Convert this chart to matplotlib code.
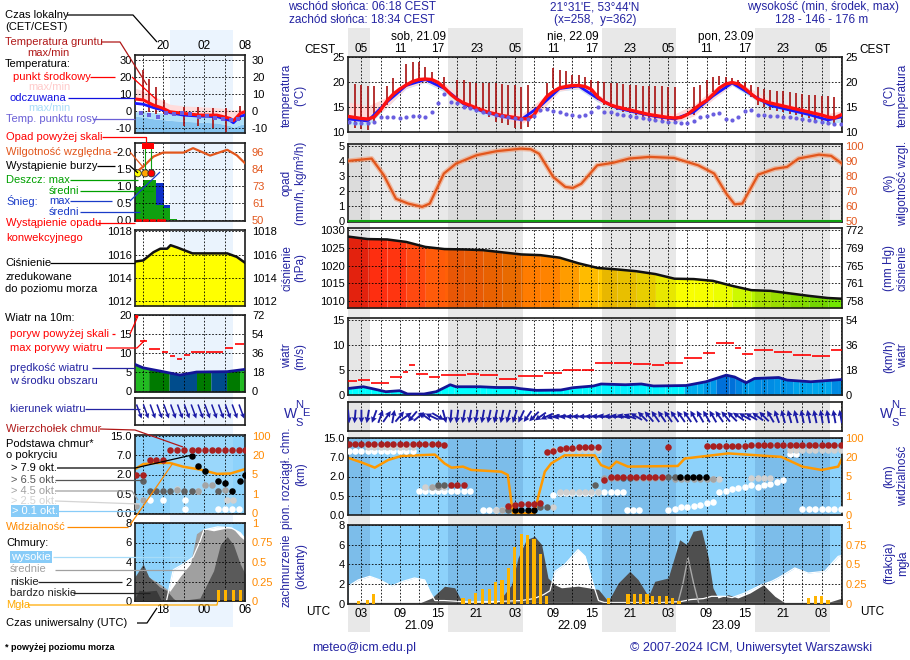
import numpy as np
import matplotlib
matplotlib.use('Agg')
import matplotlib.pyplot as plt
from matplotlib.colors import LinearSegmentedColormap, Normalize
from matplotlib.transforms import blended_transform_factory

plt.rcParams['font.family'] = ['Liberation Sans', 'DejaVu Sans']
plt.rcParams['font.size'] = 8

# =========================== DATA (main meteogram) ===========================
# time = hours since 21.09 00 UTC
sunrise_utc = 4.30      # 06:18 CEST
sunset_utc = 16.57      # 18:34 CEST
hours = np.arange(1, 79)

temp = [13.1, 12.9, 12.7, 12.6, 13.0, 14.4, 16.2, 17.6, 18.6, 19.4,
        20.1, 20.5, 20.6, 20.5, 19.9, 18.8, 17.5, 16.5, 15.8, 15.3,
        14.8, 14.3, 13.9, 13.6, 13.3, 13.1, 12.9, 12.7, 12.6, 13.4,
        15.4, 17.1, 18.1, 18.8, 19.1, 19.3, 19.3, 19.1, 18.5, 17.0,
        16.0, 15.4, 15.0, 14.7, 14.4, 14.1, 13.8, 13.5, 13.3, 13.1,
        12.9, 12.8, 12.9, 13.5, 14.5, 15.5, 16.3, 17.5, 18.8, 19.6,
        19.9, 19.6, 18.7, 17.6, 16.6, 16.2, 15.8, 15.5, 15.2, 14.9,
        14.6, 14.3, 14.0, 13.7, 13.4, 13.0, 12.8, 13.4]
dew = [12.1, 11.9, 11.8, 11.8, 12.0, 13.1, 13.0, 13.0, 12.9, 13.0,
       13.3, 13.3, 13.1, 14.1, 15.8, 17.6, 16.0, 15.8, 15.1, 14.8,
       14.5, 14.1, 13.8, 13.5, 13.3, 13.1, 12.8, 12.6, 12.7, 13.3,
       14.5, 14.6, 14.3, 14.0, 13.7, 13.5, 13.3, 13.5, 14.0, 15.0,
       14.1, 14.0, 13.7, 13.5, 13.3, 13.1, 12.9, 12.7, 12.5, 12.3,
       12.1, 12.0, 11.9, 11.9, 12.3, 13.0, 13.3, 13.6, 13.9, 12.6,
       12.5, 13.0, 14.3, 14.5, 13.5, 13.4, 13.3, 13.2, 13.1, 13.0,
       12.8, 12.6, 12.4, 12.2, 12.0, 11.8, 11.6, 11.6]
nan = np.nan
gnd_max = [nan, 19.6, 19.5, 19.3, 19.3, nan, 19.3, 20.9, nan, 23.6,
           24.0, 24.0, 23.1, 22.1, nan, 21.1, nan, 20.5, 20.5, 20.1,
           19.8, 19.8, 19.8, 19.8, 19.6, 19.5, 19.5, 19.1, 19.5, nan,
           nan, 19.8, 22.8, 22.5, 22.3, 21.5, 21.5, 21.1, 20.5, 20.3,
           20.0, 19.8, 19.8, 19.6, 19.5, 19.5, 19.3, 19.3, 19.2, 19.2,
           19.0, 19.0, nan, nan, 19.0, 19.5, 20.5, 21.0, 21.2, 21.0,
           20.8, 20.5, 20.0, 19.5, 19.0, 18.7, 18.5, 18.3, 18.2, 18.0,
           17.8, 17.6, 17.5, 17.4, 17.3, 17.2, 17.0, nan]
gnd_min = [nan, 10.9, 10.7, 10.5, 12.1, nan, 15.5, 17.5, nan, 19.1,
           20.1, 20.5, 20.6, 20.3, nan, 19.1, nan, 16.5, 15.8, 14.8,
           14.1, 13.8, 13.1, 12.1, 11.8, 11.5, 10.8, 10.7, 11.1, nan,
           nan, 17.1, 18.8, 19.1, 19.3, 19.3, 19.1, 19.1, 18.0, 16.5,
           15.5, 15.0, 14.5, 14.0, 13.8, 13.5, 13.0, 12.8, 12.5, 12.2,
           12.0, 12.0, nan, nan, 13.5, 15.0, 16.0, 18.0, 19.5, 19.8,
           19.8, 19.5, 18.5, 17.0, 15.5, 15.0, 14.5, 14.2, 14.0, 13.7,
           13.4, 13.1, 12.8, 12.5, 12.2, 11.8, 11.6, nan]
band_t = [1, 4, 7, 10, 13, 16, 19, 22, 25, 28, 31, 34, 37, 40, 43, 46, 49, 52,
          55, 58, 61, 64, 67, 70, 73, 76, 78]
temp_hi = [16.0, 15.2, 17.0, 20.0, 21.0, 19.8, 16.5, 15.0, 14.0, 13.5, 16.5, 19.5, 19.7, 17.5,
           15.6, 14.7, 14.0, 13.6, 15.5, 18.5, 20.4, 18.6, 16.5, 15.5, 14.6, 13.7, 14.2]
temp_lo = [12.4, 11.9, 15.0, 18.8, 20.0, 18.3, 15.2, 13.8, 12.6, 11.6, 14.0, 18.2, 18.8, 16.2,
           14.5, 13.5, 12.5, 12.0, 13.2, 16.5, 19.4, 17.3, 15.2, 14.2, 13.2, 12.2, 12.6]
feel = [12.6, 12.2, 16.0, 19.3, 20.5, 18.7, 15.6, 14.1, 13.1, 12.5, 15.2, 18.7, 19.2, 16.7,
        14.8, 13.9, 13.1, 12.6, 14.0, 17.2, 19.8, 17.5, 15.3, 14.4, 13.5, 12.4, 13.0]
feel_hi = [13.0, 12.8, 16.3, 19.5, 20.6, 18.9, 15.9, 14.3, 13.3, 12.8, 15.4, 18.9, 19.3, 16.9,
           15.0, 14.1, 13.3, 12.8, 14.2, 17.4, 20.0, 17.8, 15.6, 14.7, 13.8, 12.8, 13.3]
feel_lo = [11.5, 11.3, 15.0, 18.7, 19.9, 18.0, 15.0, 13.5, 12.5, 11.7, 14.3, 18.2, 18.6, 16.0,
           14.2, 13.2, 12.3, 11.8, 13.3, 16.6, 19.3, 16.9, 14.6, 13.6, 12.7, 11.6, 12.0]

hum_t = [0.9, 4.6, 6.5, 8.4, 10.3, 12.5, 13.7, 15.9, 17.8, 21.0, 24.1, 27.9, 29.5, 30.8, 33.0,
         34.9, 36.1, 37.4, 39.9, 42.4, 44.9, 48.1, 51.9, 55.7, 58.2, 60.1, 61.4, 62.6, 63.9,
         65.1, 67.7, 69.6, 71.4, 74.6, 76.5, 78.2]
hum_v = [90.2, 91.8, 80.7, 65.0, 61.8, 59.6, 61.8, 81.8, 88.4, 94.0, 96.7, 98.4, 98.0, 95.0,
         79.6, 72.9, 72.2, 75.0, 87.3, 89.0, 91.8, 92.9, 92.2, 87.3, 81.8, 68.4, 61.3, 61.8,
         71.8, 81.1, 85.0, 86.2, 91.8, 94.4, 93.6, 88.4]

press_t = [0.9, 4, 7, 10, 13, 16, 19, 22, 25, 28, 31, 34, 37, 40, 43, 46, 49, 52, 55, 58, 61,
           64, 67, 70, 73, 76, 78.2]
press = [1028.1, 1027.4, 1027.3, 1026.6, 1025.2, 1024.6, 1024.5, 1024.3, 1023.7, 1023.1,
         1022.9, 1022.2, 1020.6, 1019.3, 1018.9, 1018.4, 1017.6, 1016.3, 1016.2, 1015.7,
         1014.3, 1013.1, 1012.9, 1012.2, 1011.5, 1010.9, 1010.7]

wind_t = [0.9, 3.3, 4.6, 6.8, 9.0, 10.2, 12.8, 14.7, 16.9, 17.8, 21.6, 24.1, 26.7, 27.9, 30.4,
          34.2, 36.1, 39.3, 40.5, 44.3, 46.8, 48.7, 53.8, 56.9, 60.1, 61.4, 63.2, 64.5, 68.3,
          69.6, 73.3, 78.2]
wind_v = [1.3, 1.65, 1.3, 0.66, 0.86, 0.2, 0.2, 0.66, 2.05, 1.65, 1.65, 1.5, 1.5, 1.26, 0.93,
          1.0, 1.46, 1.8, 2.2, 2.05, 2.2, 1.8, 1.9, 2.65, 3.97, 3.6, 2.45, 3.3, 3.5, 2.98, 2.65, 3.1]
gust = [2.75, 2.75, 3.0, 3.0, 2.5, 2.5, 2.5, 3.6, 3.6, 4.6,
        6.1, 4.3, 4.3, 3.6, 3.6, 4.1, 4.1, 4.1, 4.1, 4.3,
        4.3, 4.0, 4.0, 4.0, 3.2, 3.2, 3.2, 3.9, 3.9, 3.9,
        3.9, 4.5, 4.5, 4.5, 5.1, 5.1, 5.1, 5.0, 5.0, 6.4,
        6.4, 6.4, 6.5, 6.5, 6.5, 6.3, 6.3, 6.3, 6.0, 6.0,
        6.4, 6.4, 6.4, 7.4, 7.4, 7.4, 8.4, 8.4, 10.4, 10.4,
        10.4, 9.4, 8.3, 8.3, 9.0, 9.0, 9.0, 8.7, 8.7, 8.7,
        8.0, 8.0, 8.0, 7.8, 7.8, 7.8, 9.1, 9.1]
wind_dir = [355, 5, 0, 10, 20, 200, 215, 190, 220, 235,
            40, 230, 125, 115, 300, 345, 5, 8, 10, 10,
            10, 10, 12, 12, 12, 15, 18, 25, 35, 45,
            55, 65, 75, 80, 85, 88, 90, 90, 92, 95,
            100, 95, 100, 105, 110, 120, 135, 140, 145, 145,
            145, 145, 145, 145, 150, 150, 150, 150, 145, 140,
            135, 125, 120, 120, 125, 135, 150, 160, 165, 165,
            165, 168, 168, 168, 170, 170, 170, 170]

# cloud base / top (km a.s.l.)
cb_top_t = [1, 2, 3, 4, 5, 6, 7, 8, 9, 10, 11, 12, 13, 14, 15, 16, 17, 18, 19,
            26, 27, 28, 29, 30, 31, 32, 33, 34, 35, 36, 37, 38, 39, 40,
            41, 42, 43, 44, 45, 46, 47, 48, 49, 50, 51,
            57, 58, 59, 60, 61, 62, 63, 64, 65, 66, 67, 68, 69, 70, 71, 72, 73, 74, 75, 76, 77, 78]
cb_top_h = [12.7, 12.7, 12.7, 12.7, 12.7, 12.7, 12.7, 12.7, 12.7, 12.7, 12.7, 12.7, 12.7, 12.7,
            12.7, 12.0, 1.33, 1.33, 1.33,
            0.24, 0.26, 0.28, 0.28, 0.28, 0.32, 9.2, 9.6, 10.3, 10.7, 11.0, 11.2, 11.2, 11.2, 11.2,
            1.7, 1.93, 1.93, 1.93, 1.93, 1.93, 1.93, 1.93, 1.93, 1.93, 11.2,
            11.5, 11.6, 11.6, 11.7, 11.8, 11.8, 11.8, 11.9, 11.9, 11.9, 11.9, 11.9, 11.9, 11.9,
            11.9, 11.9, 11.9, 11.9, 11.9, 12.0, 12.2, 12.2]
cb_k_t = [27, 28, 29, 30, 52.8, 53.9, 54.9, 55.9, 56.9]
cb_k_h = [0.14, 0.14, 0.14, 0.14, 1.97, 1.97, 1.97, 1.97, 1.97]
cb_d_t = [15, 16, 26, 31, 32, 39.5, 44, 45, 51, 52]
cb_d_h = [1.37, 1.37, 0.14, 0.2, 0.22, 1.37, 1.9, 1.9, 1.97, 1.97]
cb_g_t = [14, 15, 25, 41, 42, 43, 46, 47, 48, 49, 50, 52, 53, 54, 55, 56, 57, 58]
cb_g_h = [1.2, 1.2, 0.14, 1.85, 1.85, 1.85, 1.85, 1.85, 1.85, 1.85, 1.85, 1.82, 1.82, 1.82,
          1.82, 1.82, 1.82, 1.82]
cb_l_t = [4, 5, 6, 7, 8, 9, 10, 11, 13, 14, 15, 16, 24, 33,
          33, 34, 35, 36, 37, 38, 39, 40, 34, 35, 36, 37, 38, 39, 40,
          58, 59, 64, 65, 66, 67, 70, 71, 72, 73, 74, 75, 76, 77, 78]
cb_l_h = [11.3, 11.3, 11.3, 11.3, 11.3, 11.3, 11.3, 11.3, 1.19, 1.19, 1.19, 1.19, 0.13, 0.22,
          10.0, 10.0, 10.0, 10.0, 10.0, 10.0, 10.0, 10.0, 0.8, 0.8, 0.8, 0.8, 0.8, 0.8, 0.8,
          1.8, 1.8, 1.9, 1.9, 1.9, 1.9, 10.2, 10.2, 10.2, 10.2, 10.2, 10.2, 10.2, 10.2, 10.2]
cb_w_t = [1, 2, 3, 4, 5, 6, 7, 8, 9, 10, 11, 12, 13, 14, 15, 16, 17, 18, 19, 20,
          22, 23, 24, 25, 33, 34, 35, 36, 37, 38, 39, 40, 41, 42, 43, 44, 44.5, 45.5, 46.5,
          51, 52, 53, 54, 55, 56, 57, 58, 59, 60, 61, 62, 63, 64, 65, 66, 67, 68, 69,
          70, 71, 72, 73, 74, 75, 76, 77, 78]
cb_w_h = [9.6, 9.6, 9.6, 9.6, 9.6, 9.6, 9.6, 9.6, 9.6, 9.6, 9.6, 0.89, 0.89, 0.89, 0.89,
          0.89, 0.89, 0.89, 0.89, 0.89, 0.13, 0.13, 0.13, 0.13, 0.56, 0.73, 0.73, 0.73, 0.73,
          0.73, 0.73, 0.8, 0.8, 0.8, 0.8, 0.8, 0.13, 0.13, 0.13,
          0.13, 0.16, 0.2, 0.22, 0.24, 0.26, 0.3, 0.35, 0.8, 0.9, 1.0, 1.1, 1.2, 1.3, 1.15,
          1.3, 1.45, 1.6, 1.72, 8.4, 8.4, 0.16, 0.16, 0.16, 0.16, 0.16, 0.16, 0.16]
vis_t = [0.9, 3.0, 5.1, 7.2, 9.3, 14.5, 16.0, 17.1, 18.9, 20.2, 24.9, 25.9, 26.7, 30.1, 30.6,
         31.7, 32.7, 34.8, 39.5, 40.5, 41.8, 42.9, 44.7, 52.5, 53.6, 60.4, 68.7, 72.0, 75.0,
         77.6, 78.2]
vis_v = [19.6, 16, 11.9, 17.9, 25.6, 31, 15.2, 11.9, 12.7, 10.1, 8.75, 6.2, 0.09, 0.09, 0.86,
         8.75, 15.2, 28, 28, 13.9, 11.3, 16.6, 12.7, 13.2, 19, 36, 21.6, 12.7, 10.1, 12.7, 19]

# cloud cover (octas)
hi_t = [0.9, 2.5, 4.3, 5.9, 7.7, 9.5, 11.3, 12.9, 13.7, 14.5, 16.0, 20.0, 24.0, 28.0, 30.0,
        31.5, 32.5, 33.3, 34.8, 36.9, 38.0, 39.3, 40.1, 41.0, 50.0, 53.0, 54.5, 56.5, 57.8,
        59.9, 61.0, 63.0, 65.6, 67.2, 68.2, 70.8, 72.9, 75.5, 77.6, 78.2]
hi_v = [1.75, 2.4, 2.77, 2.4, 1.77, 2.26, 2.6, 2.4, 1.24, 0.3, 0.3, 0.15, 0.2, 0.3, 0.5, 0.9,
        1.3, 3.28, 3.96, 5.49, 4.8, 1.9, 0.3, 0.1, 0.1, 0.2, 0.4, 0.5, 0.73, 0.73, 0.6, 1.07,
        1.9, 2.26, 2.6, 3.62, 3.1, 3.28, 4.8, 4.9]
lo_t = [0.9, 11.9, 14.0, 16.0, 17.6, 18.7, 19.5, 24.0, 24.9, 26.5, 27.5, 28.8, 30.1, 31.2,
        32.2, 33.3, 34.3, 36.9, 40.1, 41.6, 43.2, 45.0, 46.3, 47.9, 48.9, 51.0, 52.8, 53.9,
        54.9, 56.2, 57.3, 58.0, 58.8, 60.4, 61.9, 63.8, 65.9, 67.7, 69.3, 75.5, 78.2]
lo_v = [0, 0, 0.56, 1.76, 1.6, 0.22, 0, 0, 0.56, 1.92, 4.64, 6.5, 6.85, 6.0, 2.6, 1.9, 1.6,
        1.77, 1.43, 0.22, 2.1, 3.28, 2.43, 0.73, 2.26, 2.6, 6.5, 6.0, 7.36, 7.53, 4.64, 1.6,
        0.56, 0.9, 0.56, 1.07, 1.9, 0.73, 0.05, 0, 0.56]
mid_t = [0.9, 52.5, 53.3, 54.1, 55.0, 55.8, 78.2]
mid_v = [0, 0, 2.0, 4.7, 2.0, 0, 0]
fog_t = [2.6, 3.9, 4.9, 18.9, 19.9, 20.9, 22.0, 23.0, 24.0, 25.0, 26.0, 27.0, 28.0, 29.0, 30.0,
         31.0, 32.0, 41.6, 44.7, 45.7, 46.7, 47.7, 48.6, 49.7, 50.7, 51.7, 52.7, 73.0, 74.0,
         75.0, 76.0]
fog_v = [0.03, 0.05, 0.12, 0.07, 0.06, 0.13, 0.18, 0.18, 0.28, 0.30, 0.45, 0.72, 0.88, 0.87,
         0.82, 0.63, 0.10, 0.07, 0.12, 0.12, 0.12, 0.12, 0.09, 0.09, 0.10, 0.07, 0.03, 0.07,
         0.09, 0.09, 0.05]

# axis scales
cb_levels_km = [0, 0.5, 2, 7, 15]
vis_levels_km = [0, 1, 5, 20, 100]
days = ['sob, 21.09', 'nie, 22.09', 'pon, 23.09']
dates = ['21.09', '22.09', '23.09']

# =========================== DATA (legend mini-panels) ===========================
lg_night = (19.0, 28.2)
lg_t = [13.9, 15.1, 16.6, 18.0, 19.0, 21.0, 23.4, 25.9, 27.8, 28.3, 29.3, 30.0]
lg_temp = [7.1, 6.5, 3.5, 1.6, -0.4, -1.4, -2.4, -2.4, -4.3, -5.7, -1.4, -0.4]
lg_feel = [4.5, 4.0, 2.0, 0.6, -1.0, -2.4, -3.0, -3.3, -5.5, -6.9, -3.0, -2.4]
lg_thi = [13.4, 12.0, 9.0, 6.0, 4.0, 3.0, 2.5, 2.0, 1.0, 0.5, 1.0, 0.6]
lg_fhi = [-0.4, -0.4, -0.8, -1.2, -1.6, -2.2, -2.8, -3.0, -4.5, -6.0, -3.5, -3.0]
lg_flo = [-3.0, -3.5, -4.5, -5.0, -5.5, -6.0, -6.5, -7.0, -8.5, -9.5, -8.0, -7.5]
lg_dew_t = [14.8, 16.0, 17.2, 18.4, 19.6, 20.8, 22.0, 23.2, 24.4, 25.6, 26.8, 28.0, 29.0]
lg_dew = [-1.4, -2.4, -3.3, -1.4, -1.8, -1.4, -2.0, -3.5, -3.0, -4.0, -4.8, -5.5, -4.8]
lg_g_t = [15.1, 15.9, 17.0, 18.2, 21.1, 23.1, 25.3, 27.2, 29.2]
lg_gmax = [24, 19, 14, 6.5, 2.5, 2.5, 1.5, 1.5, 3]
lg_gmin = [6, -0.5, -1.5, -1.5, -9, -9, -10, -12.5, -5]

lg_rain_t0 = [13.9, 15.1, 17.0, 18.1, 19.0]
lg_rain_t1 = [15.1, 17.0, 18.1, 19.0, 20.0]
lg_rain = [0.98, 1.18, 0.44, 0.40, 0.04]
lg_snow_t0 = [17.0, 18.1]
lg_snow_t1 = [18.1, 19.0]
lg_snow_lo = [0.44, 0.35]
lg_snow_hi = [1.10, 0.44]
lg_hum_t = [13.9, 15.1, 16.6, 18.0, 21.0, 22.4, 24.9, 27.4, 28.8, 30.0]
lg_hum = [81.6, 86.0, 92.8, 95.5, 95.5, 98.5, 93.5, 97.4, 93.7, 88.3]
lg_storm_t = [14.3, 15.4, 16.3]
lg_above_t = [15.4, 16.3]
lg_conv_t = [14.2, 14.7, 15.2, 15.7, 16.2, 16.7, 17.2, 17.7, 18.2]

lg_p_t = [13.9, 15.1, 16.6, 17.6, 18.6, 19.1, 20.1, 22.3, 27.4, 28.8, 30.0]
lg_p = [1015.4, 1015.5, 1016.2, 1016.5, 1016.5, 1016.8, 1016.6, 1016.1, 1016.1, 1015.8, 1015.3]

lg_w_t = [13.9, 15.1, 18.0, 20.5, 22.9, 27.4, 30.0]
lg_w = [7.0, 6.1, 5.1, 4.2, 5.0, 5.1, 5.7]
lg_wf_edges = [13.9, 15.9, 18.9, 22.9, 25.0, 27.3, 29.2, 30.0]
lg_wf_cls = [0, 1, 2, 1, 2, 1, 0]
lg_gs0 = [14.6, 15.9, 17.8, 19.0, 20.0, 21.0, 22.1, 24.3, 27.0, 28.5]
lg_gs1 = [15.9, 17.8, 19.0, 20.0, 21.0, 22.1, 24.3, 27.0, 28.5, 30.0]
lg_gv = [13.2, 11.1, 10.3, 9.2, 8.3, 9.6, 10.3, 10.3, 11.4, 12.5]
lg_dir_t = [14.5, 15.5, 16.5, 17.5, 18.5, 19.5, 20.5, 21.5, 22.5, 23.5, 24.5, 25.5, 26.5,
            27.5, 28.5, 29.5]
lg_dir = [340, 340, 340, 340, 340, 340, 340, 340, 340, 340, 340, 340, 340, 340, 340, 340]

lg_top_t = [14.1, 15.1, 16.1, 17.0, 18.0, 19.0, 20.0, 21.0, 22.2, 23.1, 24.1, 25.1, 26.1,
            27.1, 28.1, 29.1, 30.0]
lg_top_h = [2.0, 2.0, 5.7, 5.7, 5.7, 9.3, 9.3, 9.3, 9.3, 9.3, 9.3, 9.3, 9.3, 9.3, 9.3, 9.3, 9.3]
lg_k_t = [22.2, 23.1, 24.1, 26.1, 27.1, 28.1, 29.3, 30.0]
lg_k_h = [6.8, 4.2, 2.9, 1.5, 1.3, 0.68, 1.5, 2.0]
lg_d_t = [15.1, 16.1, 17.0, 18.0, 19.0, 21.0, 22.2, 26.1]
lg_d_h = [1.5, 0.68, 0.68, 0.68, 0.72, 0.75, 0.75, 0.68]
lg_g2_t = [14.1, 15.1, 20.0, 23.1, 24.1, 25.1, 27.1]
lg_g2_h = [0.19, 0.33, 0.8, 0.68, 1.2, 1.2, 0.8]
lg_l_t = [20.0, 23.1, 27.4, 28.3]
lg_l_h = [0.85, 0.68, 0.33, 0.33]
lg_w2_t = [15.1, 16.1, 18.0, 21.2, 21.2, 26.1, 27.1, 28.1, 29.1]
lg_w2_h = [0.33, 0.33, 0.35, 0.35, 0.1, 0.1, 0.1, 0.1, 0.1]
lg_vis_t = [13.9, 15.1, 17.0, 19.0, 21.0, 23.4, 25.9, 27.9, 30.0]
lg_vis = [9.2, 13.1, 14.0, 14.0, 11.0, 8.9, 5.5, 5.8, 9.2]

lg_hi_t = [13.9, 18.5, 19.5, 21.0, 22.4, 23.4, 24.0, 26.0, 28.0, 29.3, 30.0]
lg_hi = [0, 0, 3.2, 3.8, 4.5, 6.1, 7.3, 7.6, 7.5, 7.0, 6.4]
lg_mid_t = [13.9, 15.0, 17.0, 19.0, 20.5, 22.0, 22.9, 23.9, 25.4, 27.4, 28.3, 29.3, 30.0]
lg_mid = [2.5, 2.8, 2.0, 1.0, 2.5, 3.8, 6.9, 7.4, 7.2, 7.5, 7.4, 6.6, 6.2]
lg_low_t = [13.9, 15.1, 15.9, 17.5, 18.5, 19.5, 20.0, 23.4, 25.4, 26.4, 27.4, 28.3, 29.3, 30.0]
lg_low = [2.5, 3.8, 2.5, 1.45, 1.1, 0.27, 0, 0.3, 3.1, 5.8, 6.6, 5.8, 3.8, 2.8]
lg_vlow_t = [13.9, 14.5, 15.5, 17.0, 17.8, 30.0]
lg_vlow = [0.3, 1.1, 1.0, 1.1, 0, 0]
lg_fog_t = [26.1, 27.1, 28.3, 29.3]
lg_fog = [0.14, 0.14, 0.14, 0.14]

# =========================== FIGURE ===========================
W, H = 910, 660
fig = plt.figure(figsize=(W / 100, H / 100), dpi=100)
fig.patch.set_facecolor('white')

NAVY = '#2424a2'
ORANGE = '#ff8a00'
HUMC = '#e2561c'
GRID = dict(color='black', linestyle=(0, (2, 2)), linewidth=0.6)

X0, X1 = 0.9, 78.2
LX = (13.9, 30.0)
nights = [(sunset_utc + 24 * (d - 1), sunrise_utc + 24 * d) for d in range(4)]


def add_ax(r, z):
    x0, y0, x1, y1 = r
    return fig.add_axes([x0 / W, 1 - y1 / H, (x1 - x0) / W, (y1 - y0) / H], zorder=z)


def panel(r, xlim, ylim, face):
    ax = add_ax(r, 2)
    ax.set_xlim(*xlim)
    ax.set_ylim(*ylim)
    ax.set_facecolor(face)
    for s in ax.spines.values():
        s.set_linewidth(1.2)
        s.set_color('#1e1e1e')
    ax.tick_params(length=0, labelsize=8, pad=2.5)
    ax.set_axisbelow('line')
    return ax


def grids(ax, xt, yt, ylab=None):
    ax.set_xticks(xt)
    ax.set_xticklabels([])
    if yt is None:
        ax.set_yticks([])
        ax.grid(True, axis='x', **GRID)
    else:
        ax.set_yticks(yt)
        ax.set_yticklabels(ylab)
        ax.grid(True, **GRID)


def right(ax, pos, labels, color='black', pad=2.5):
    if pos is None:
        return None
    tw = ax.twinx()
    tw.set_ylim(ax.get_ylim())
    tw.set_yticks(pos)
    tw.set_yticklabels(labels)
    tw.tick_params(length=0, labelsize=8, pad=pad, labelcolor=color)
    for s in tw.spines.values():
        s.set_visible(False)
    return tw


def nightspans(ax, color, alpha=1.0, z=0.2):
    for a, b in nights:
        ax.axvspan(a, b, color=color, alpha=alpha, lw=0, zorder=z)


MAIN_XT = np.arange(3, 79, 3)
MINI_XT = [15, 18, 21, 24, 27]

# background night strips (main + legend)
bgm = add_ax((348, 28, 842, 632), 0)
bgm.set_xlim(X0, X1)
bgm.axis('off')
for a, b in nights:
    bgm.axvspan(a, b, color='#e8e8e8', lw=0)
bgl = add_ax((135, 30, 245, 627), 0)
bgl.set_xlim(*LX)
bgl.axis('off')
bgl.axvspan(*lg_night, color='#ebf4fe', lw=0)

# ---------------- temperature ----------------
ax = panel((348, 57, 842, 132), (X0, X1), (10, 25), 'white')
nightspans(ax, '#e6e6e6')
grids(ax, MAIN_XT, [10, 15, 20, 25], ['10', '15', '20', '25'])
right(ax, [10, 15, 20, 25], ['10', '15', '20', '25'])
ax.fill_between(band_t, feel_lo, feel_hi, color='#bfe6fb', lw=0, zorder=1)
ax.fill_between(band_t, temp_lo, temp_hi, color='#ffd9d9', lw=0, zorder=1.05)
ax.vlines(hours, gnd_min, gnd_max, color='#a80f0f', lw=1.2, zorder=2)
ax.plot(band_t, feel, color='#1a1aff', lw=2, zorder=3)
ax.plot(hours, temp, color='#ff1010', lw=2.4, zorder=3.2)
ax.scatter(hours, dew, s=9, marker='o', color='#6a5fe0', lw=0, zorder=3.4)
bt = blended_transform_factory(ax.transData, ax.transAxes)
for h in range(3, 79, 6):
    ax.text(h, 1.10, '%02d' % ((h + 2) % 24), transform=bt, ha='center', va='center', fontsize=8.5)
for i, h in enumerate([12, 36, 60]):
    ax.text(h, 1.27, days[i], transform=bt, ha='center', va='center', fontsize=8.5)

# ---------------- precipitation / humidity ----------------
ax = panel((348, 144, 842, 222), (X0, X1), (-0.05, 5.15), '#e9e9e9')
nightspans(ax, '#dcdcdc')
grids(ax, MAIN_XT, [0, 1, 2, 3, 4, 5], ['0', '1', '2', '3', '4', '5'])
right(ax, [0, 1, 2, 3, 4, 5], ['50', '60', '70', '80', '90', '100'], color=HUMC)
ax.axhline(0, color='#10a010', lw=1.5, zorder=3)
hum_y = (np.array(hum_v) - 50) / 10
ax.plot(hum_t, hum_y, color='#f49a70', lw=3.6, alpha=0.6, zorder=3)
ax.plot(hum_t, hum_y, color=HUMC, lw=1.6, zorder=3.1)

# ---------------- pressure ----------------
pcmap = LinearSegmentedColormap.from_list('pres', ['#5ae000', '#90f000', '#c8f800', '#f0ff00',
                                                   '#ffff00', '#ffd200', '#ffb400', '#ff8c00',
                                                   '#ff6e00', '#ff5010', '#ff3010', '#f01010'])
pnorm = Normalize(1010, 1029)
ax = panel((348, 228, 842, 308), (X0, X1), (1008.1, 1030.5), 'white')
grids(ax, MAIN_XT, [1010, 1015, 1020, 1025, 1030], ['1010', '1015', '1020', '1025', '1030'])
right(ax, [1010, 1015, 1020, 1025, 1030], ['758', '761', '765', '769', '772'])
for i in range(len(press_t) - 1):
    ys = [press[i], press[i + 1]]
    ax.fill_between([press_t[i], press_t[i + 1]], 1008.1, ys,
                    color=pcmap(pnorm(0.5 * (ys[0] + ys[1]))), lw=0, zorder=1)
nightspans(ax, 'black', alpha=0.09, z=1.2)
ax.plot(press_t, press, color='#111111', lw=1.8, zorder=3)

# ---------------- wind ----------------
wcmap = LinearSegmentedColormap.from_list('w', [(0, '#00ffff'), (0.35, '#00f4ff'), (0.45, '#00b4f0'),
                                                (0.65, '#0096e8'), (0.85, '#0078dc'), (1, '#0066d6')])
wnorm = Normalize(4, 11)
ax = panel((348, 318, 842, 395), (X0, X1), (0, 15.4), 'white')
nightspans(ax, '#e6e6e6')
grids(ax, MAIN_XT, [0, 5, 10, 15], ['0', '5', '10', '15'])
right(ax, [0, 5, 10, 15], ['0', '18', '36', '54'])
for i, hh in enumerate(hours):
    xs = np.linspace(hh - 0.5, hh + 0.5, 6)
    ax.fill_between(xs, 0, np.interp(xs, wind_t, wind_v), color=wcmap(wnorm(gust[i])),
                    lw=0, zorder=1)
ax.plot(wind_t, wind_v, color='#141496', lw=2, zorder=3)
i = 0
while i < len(gust):
    j = i
    while j + 1 < len(gust) and gust[j + 1] == gust[i]:
        j += 1
    ax.hlines(gust[i], hours[i] - 0.5, hours[j] + 0.35, color='#ff0000', lw=1.2, zorder=3)
    i = j + 1

# ---------------- wind direction ----------------
ax = panel((348, 402, 842, 431), (X0, X1), (-1, 1), 'white')
nightspans(ax, '#e6e6e6')
grids(ax, MAIN_XT, None)
to = np.radians(np.array(wind_dir) + 180.0)
ax.quiver(hours, np.zeros(len(hours)), np.sin(to), np.cos(to), angles='uv', pivot='middle',
          scale_units='inches', scale=1 / 0.135, width=0.0038, headwidth=3.2, headlength=3.2,
          headaxislength=2.9, color='#1c1ca6', zorder=3)

# ---------------- cloud base ----------------
def cbi(v):
    return np.interp(v, cb_levels_km, [0, 1, 2, 3, 4])


ax = panel((348, 438, 842, 515), (X0, X1), (0, 4), '#8dd2fb')
nightspans(ax, '#7cbdea')
grids(ax, MAIN_XT, [0, 1, 2, 3, 4], ['0.0', '0.5', '2.0', '7.0', '15.0'])
right(ax, [0, 1, 2, 3, 4], ['0', '1', '5', '20', '100'], color=ORANGE)
ax.plot(vis_t, np.interp(vis_v, vis_levels_km, [0, 1, 2, 3, 4]), color='#ff9900', lw=1.8, zorder=2)
for tt, hh, c in [(cb_w_t, cb_w_h, 'white'), (cb_l_t, cb_l_h, '#d0d0d0'),
                  (cb_g_t, cb_g_h, '#a4a4a4'), (cb_d_t, cb_d_h, '#606060'),
                  (cb_k_t, cb_k_h, 'black'), (cb_top_t, cb_top_h, '#a82020')]:
    ax.scatter(tt, cbi(hh), s=22, color=c, lw=0, zorder=4)

# ---------------- cloud cover ----------------
ax = panel((348, 525, 842, 603.5), (X0, X1), (0, 8), '#8dd2fb')
nightspans(ax, '#7cbdea')
ax.set_xticks(MAIN_XT)
ax.set_xticklabels(['%02d' % (h % 24) if (h - 3) % 6 == 0 else '' for h in MAIN_XT], fontsize=8.5)
ax.tick_params(axis='x', pad=3)
ax.set_yticks([0, 2, 4, 6, 8])
ax.set_yticklabels(['0', '2', '4', '6', '8'])
ax.grid(True, **GRID)
right(ax, [0, 2, 4, 6, 8], ['0', '0.25', '0.5', '0.75', '1'], color=ORANGE)
ax.fill_between(hi_t, 0, hi_v, color='white', lw=0, zorder=1)
ax.fill_between(lo_t, 0, lo_v, color='#4f4f4f', lw=0, zorder=1.1)
ax.plot(hi_t, hi_v, color='white', lw=0.9, zorder=1.2)
ax.plot(mid_t, mid_v, color='#a8a8a8', lw=1.0, zorder=1.3)
ax.bar(fog_t, np.array(fog_v) * 8, width=0.5, color='#ffb400', lw=0, zorder=3)
bt = blended_transform_factory(ax.transData, ax.transAxes)
for i, h in enumerate([12, 36, 60]):
    ax.text(h, -0.29, dates[i], transform=bt, ha='center', va='center', fontsize=8.5)

# =========================== LEGEND MINI PANELS ===========================
def mini(r, ylim, face, yt, ylab, rlab, rcolor='black', band_col='#eaf3fd', band_alpha=1.0):
    ax = panel(r, LX, ylim, face)
    ax.axvspan(*lg_night, color=band_col, alpha=band_alpha, lw=0, zorder=0.2)
    grids(ax, MINI_XT, yt, ylab)
    right(ax, yt, rlab, color=rcolor, pad=5)
    return ax


ax = mini((135, 55, 245, 133), (-12.9, 32.9), 'white', [-10, 0, 10, 20, 30],
          ['-10', '0', '10', '20', '30'], ['-10', '0', '10', '20', '30'])
ax.fill_between(lg_t, -12.9, lg_flo, color='#86c4f0', lw=0, zorder=1)
ax.fill_between(lg_t, lg_flo, lg_fhi, color='#aedff9', lw=0, zorder=1)
ax.fill_between(lg_t, lg_temp, lg_thi, color='#ffdcdc', lw=0, zorder=1)
ax.vlines(lg_g_t, lg_gmin, lg_gmax, color='#a80f0f', lw=1.2, zorder=2)
ax.plot(lg_t, lg_feel, color='#1a1aff', lw=2, zorder=3)
ax.plot(lg_t, lg_temp, color='#ff1010', lw=2.2, zorder=3.2)
ax.scatter(lg_dew_t, lg_dew, s=8, marker='s', color='#6a5fe0', lw=0, zorder=3.4)
bt = blended_transform_factory(ax.transData, ax.transAxes)
for h, s in [(18, '20'), (24, '02'), (30, '08')]:
    ax.text(h, 1.11, s, transform=bt, ha='center', va='center', fontsize=8.5)

ax = mini((135, 143, 245, 221), (-0.03, 2.26), 'white', [0, 0.5, 1.0, 1.5, 2.0],
          ['0.0', '0.5', '1.0', '1.5', '2.0'], ['50', '61', '73', '84', '96'], rcolor=HUMC)
ax.bar(lg_rain_t0, lg_rain, width=np.array(lg_rain_t1) - np.array(lg_rain_t0), align='edge',
       color='#10a010', lw=0, zorder=1)
ax.bar(lg_snow_t0, np.array(lg_snow_hi) - np.array(lg_snow_lo),
       width=np.array(lg_snow_t1) - np.array(lg_snow_t0), bottom=lg_snow_lo, align='edge',
       color='#1030c8', lw=0, zorder=1.1)
ax.plot(lg_hum_t, (np.array(lg_hum) - 50) / 23, color=HUMC, lw=1.6, zorder=3)
ax.vlines(lg_above_t, 1.4, 2.16, color='#10a010', lw=0.8, zorder=3)
ax.scatter(lg_above_t, [2.16, 2.16], s=14, marker='s', color='#ff0000', lw=0, zorder=4)
ax.scatter(lg_storm_t, [1.37, 1.37, 1.37], s=26, color=['#ffff00', '#ffa500', '#ff0000'],
           edgecolors='#303030', lw=0.6, zorder=4)
ax.scatter(lg_conv_t, np.zeros(len(lg_conv_t)), s=5, color='#ff0000', lw=0, zorder=4)

ax = mini((135, 230, 245, 306), (1011.6, 1018.1), 'white', [1012, 1014, 1016, 1018],
          ['1012', '1014', '1016', '1018'], ['1012', '1014', '1016', '1018'])
ax.fill_between(lg_p_t, 1011.6, lg_p, color='#ffff00', lw=0, zorder=1)
ax.plot(lg_p_t, lg_p, color='#111111', lw=1.8, zorder=3)

ax = mini((135, 315, 245, 392), (-0.25, 20), 'white', [0, 5, 10, 15, 20],
          ['0', '5', '10', '15', '20'], ['0', '18', '36', '54', '72'])
wf_cols = ['#22bb22', '#007a00', '#004c8c']
for k in range(len(lg_wf_cls)):
    xs = np.linspace(lg_wf_edges[k], lg_wf_edges[k + 1], 6)
    ax.fill_between(xs, -0.25, np.interp(xs, lg_w_t, lg_w), color=wf_cols[lg_wf_cls[k]], lw=0, zorder=1)
ax.plot(lg_w_t, lg_w, color='#141496', lw=2, zorder=3)
ax.hlines(lg_gv, lg_gs0, np.array(lg_gs1) - 0.2, color='#ff0000', lw=1.2, zorder=3)
ax.scatter([14.1], [19.8], s=10, marker='s', color='#ff0000', lw=0, zorder=4)

ax = mini((135, 398, 245, 425), (-1, 1), 'white', None, None, None)
lto = np.radians(np.array(lg_dir) + 180.0)
ax.quiver(lg_dir_t, np.zeros(len(lg_dir_t)), np.sin(lto), np.cos(lto), angles='uv', pivot='middle',
          scale_units='inches', scale=1 / 0.15, width=0.014, headwidth=3.3, headlength=3.3,
          headaxislength=3.0, color='#1c1ca6', zorder=3)

ax = mini((135, 435, 245, 514), (-0.05, 4.05), '#8dd2fb', [0, 1, 2, 3, 4],
          ['0.0', '0.5', '2.0', '7.0', '15.0'], ['0', '1', '5', '20', '100'], rcolor=ORANGE,
          band_col='white', band_alpha=0.12)
ax.plot(lg_vis_t, np.interp(lg_vis, vis_levels_km, [0, 1, 2, 3, 4]), color='#ff9900', lw=1.8, zorder=2)
for tt, hh, c in [(lg_w2_t, lg_w2_h, 'white'), (lg_l_t, lg_l_h, '#d0d0d0'),
                  (lg_g2_t, lg_g2_h, '#a4a4a4'), (lg_d_t, lg_d_h, '#606060'),
                  (lg_k_t, lg_k_h, 'black'), (lg_top_t, lg_top_h, '#a82020')]:
    ax.scatter(tt, cbi(hh), s=22, color=c, lw=0, zorder=4)

ax = mini((135, 523, 245, 601), (0, 8), '#8dd2fb', [0, 2, 4, 6, 8],
          ['0', '2', '4', '6', '8'], ['0', '0.25', '0.5', '0.75', '1'], rcolor=ORANGE,
          band_col='white', band_alpha=0.12)
ax.fill_between(lg_hi_t, 0, lg_hi, color='white', lw=0, zorder=1)
ax.fill_between(lg_mid_t, 0, lg_mid, color='#a0a0a0', lw=0, zorder=1.05)
ax.fill_between(lg_low_t, 0, lg_low, color='#5a5a5a', lw=0, zorder=1.1)
ax.fill_between(lg_vlow_t, 0, lg_vlow, color='#3a3a3a', lw=0, zorder=1.15)
ax.plot(lg_hi_t, lg_hi, color='white', lw=0.9, zorder=1.2)
ax.bar(lg_fog_t, np.array(lg_fog) * 8, width=0.45, color='#ffb400', lw=0, zorder=3)
bt = blended_transform_factory(ax.transData, ax.transAxes)
for h, s in [(18, '18'), (24, '00'), (30, '06')]:
    ax.text(h, -0.12, s, transform=bt, ha='center', va='center', fontsize=8.5)

# =========================== OVERLAY TEXT ===========================
ov = fig.add_axes([0, 0, 1, 1], zorder=30)
ov.set_xlim(0, W)
ov.set_ylim(H, 0)
ov.axis('off')


def txt(x, y, s, color='black', size=8, ha='left', **kw):
    ov.text(x, y, s, color=color, fontsize=size, ha=ha, va='center', **kw)


def line(pts, color, lw=0.9, ls='-'):
    xs, ys = zip(*pts)
    ov.plot(xs, ys, color=color, lw=lw, ls=ls, solid_capstyle='butt')


# header
txt(362, 7, 'wschód słońca: 06:18 CEST', NAVY, size=8.5, ha='center')
txt(362, 20, 'zachód słońca: 18:34 CEST', NAVY, size=8.5, ha='center')
txt(595, 7, "21°31'E, 53°44'N", NAVY, size=8.5, ha='center')
txt(595, 20, '(x=258,  y=362)', NAVY, size=8.5, ha='center')
txt(899, 7, 'wysokość (min, środek, max)', NAVY, size=8.5, ha='right')
txt(822, 20, '128 - 146 - 176 m', NAVY, size=8.5, ha='center')
txt(320, 50, 'CEST', size=8.5, ha='center')
txt(875, 50, 'CEST', size=8.5, ha='center')
txt(318, 612, 'UTC', size=8.5, ha='center')
txt(872, 612, 'UTC', size=8.5, ha='center')


def rot(x, y, s, size=8.5):
    ov.text(x, y, s, color=NAVY, fontsize=size, rotation=90, ha='center', va='center',
            multialignment='center', linespacing=1.15)


rot(294, 95, 'temperatura\n(°C)')
rot(294, 183, 'opad\n(mm/h, kg/m³/h)')
rot(294, 268, 'ciśnienie\n(hPa)')
rot(294, 356, 'wiatr\n(m/s)')
rot(287, 478, 'pion. rozciągł. chm.')
rot(301, 474, '(km)')
rot(287, 570, 'zachmurzenie')
rot(301, 566, '(oktanty)')
rot(896, 95, '(°C)\ntemperatura')
rot(896, 183, '(%)\nwilgotność wzgl.')
rot(896, 268, '(mm Hg)\nciśnienie')
rot(896, 356, '(km/h)\nwiatr')
rot(896, 476, '(km)\nwidzialność')
rot(896, 563, '(frakcja)\nmgła')
for cx in (290, 886):
    txt(cx, 414, 'W', NAVY, size=10, ha='center')
    txt(cx + 9, 405, 'N', NAVY, size=8, ha='center')
    txt(cx + 9, 423, 'S', NAVY, size=8, ha='center')
    txt(cx + 16, 413, 'E', NAVY, size=8, ha='center')

# footer
txt(364, 648, 'meteo@icm.edu.pl', NAVY, size=9, ha='center')
txt(751, 648, '© 2007-2024 ICM, Uniwersytet Warszawski', NAVY, size=9, ha='center')
txt(5, 648, '* powyżej poziomu morza', size=6.5, fontweight='bold')

# legend annotations
RED = '#ff0000'
DRED = '#b01818'
GREEN = '#00a000'
SNOW = '#1a3cc8'
labels = [
    (5, 15, 'Czas lokalny', 'black'), (5, 27, '(CET/CEST)', 'black'),
    (5, 42, 'Temperatura gruntu', DRED), (27, 53, 'max/min', DRED),
    (5, 64, 'Temperatura:', 'black'), (13, 77, 'punkt środkowy', RED),
    (28, 87, 'max/min', '#ffcaca'), (10, 98, 'odczuwana', '#1010e0'),
    (28, 108, 'max/min', '#a8dcf8'), (6, 119, 'Temp. punktu rosy', '#6a5fd6'),
    (6, 137, 'Opad powyżej skali', RED), (6, 152, 'Wilgotność względna', HUMC),
    (6, 166, 'Wystąpienie burzy', 'black'), (6, 180, 'Deszcz: max', GREEN),
    (49, 191, 'średni', GREEN), (6, 201, 'Śnieg:', SNOW), (49, 201, 'max', SNOW),
    (49, 212, 'średni', SNOW), (6, 223, 'Wystąpienie opadu', RED),
    (6, 238, 'konwekcyjnego', RED), (5, 263, 'Ciśnienie', 'black'),
    (5, 277, 'zredukowane', 'black'), (5, 289, 'do poziomu morza', 'black'),
    (5, 318, 'Wiatr na 10m:', 'black'), (10, 334, 'poryw powyżej skali', RED),
    (10, 348, 'max porywy wiatru', RED), (10, 368, 'prędkość wiatru', NAVY),
    (10, 381, 'w środku obszaru', NAVY), (10, 409, 'kierunek wiatru', NAVY),
    (6, 429, 'Wierzchołek chmur', DRED), (6, 444, 'Podstawa chmur*', 'black'),
    (6, 455, 'o pokryciu', 'black'), (11, 468, '> 7.9 okt.', 'black'),
    (11, 480, '> 6.5 okt.', '#555555'), (11, 491, '> 4.5 okt.', '#a0a0a0'),
    (11, 501, '> 2.5 okt.', '#d4d4d4'), (6, 527, 'Widzialność', ORANGE),
    (6, 543, 'Chmury:', 'black'), (10, 569, 'średnie', '#a0a0a0'),
    (10, 582, 'niskie', '#222222'), (10, 593, 'bardzo niskie', '#222222'),
    (6, 605, 'Mgła', '#ffaa00'), (6, 623, 'Czas uniwersalny (UTC)', 'black'),
]
for x, y, s, c in labels:
    txt(x, y, s, c)
txt(12, 511, '> 0.1 okt.', 'white', bbox=dict(facecolor='#88ccf8', edgecolor='none', pad=0.6))
txt(11, 557, 'wysokie', 'white', bbox=dict(facecolor='#88ccf8', edgecolor='none', pad=0.6))

conns = [
    ([(67, 15), (133, 15), (157, 42)], 'black'),
    ([(101, 42), (120, 42), (147, 85)], DRED),
    ([(90, 77), (115, 77)], RED), ([(132, 77), (157, 100)], RED),
    ([(68, 98), (135, 98)], '#1010e0'),
    ([(93, 119), (135, 119)], '#6a5fd6'),
    ([(102, 137), (146, 137), (146, 147)], RED),
    ([(113, 152), (117, 152)], HUMC), ([(130, 152), (143, 167)], HUMC),
    ([(97, 166), (115, 166)], 'black'), ([(130, 166), (138, 173)], 'black'),
    ([(70, 180), (138, 180)], GREEN), ([(80, 191), (153, 191)], GREEN),
    ([(70, 201), (112, 201)], SNOW), ([(130, 201), (160, 172)], SNOW),
    ([(80, 212), (140, 212)], SNOW),
    ([(97, 223), (135, 223)], RED),
    ([(50, 263), (135, 263)], 'black'),
    ([(112, 334), (115, 334)], RED), ([(130, 334), (138, 316)], RED),
    ([(106, 348), (137, 348), (145, 340)], RED),
    ([(92, 368), (135, 368)], NAVY),
    ([(85, 409), (140, 409)], NAVY),
    ([(100, 429), (135, 430), (183, 447)], DRED),
    ([(57, 468), (135, 468), (192, 455)], 'black'),
    ([(55, 480), (143, 480)], '#555555'),
    ([(55, 491), (132, 491), (138, 500)], '#a0a0a0'),
    ([(55, 501), (140, 504)], '#d4d4d4'),
    ([(57, 511), (135, 511)], '#88ccf8'),
    ([(67, 527), (128, 527)], ORANGE), ([(130, 525), (173, 463)], ORANGE),
    ([(53, 557), (187, 557)], '#a8dcf8'),
    ([(55, 570), (193, 570)], '#a0a0a0'),
    ([(38, 582), (122, 582)], '#222222'),
    ([(73, 593), (150, 593)], '#222222'),
    ([(28, 605), (217, 605), (218, 600)], '#ffaa00'),
    ([(137, 623), (147, 623), (157, 608)], 'black'),
]
for pts, c in conns:
    line(pts, c)

fig.savefig('out.png', dpi=100, facecolor='white')
